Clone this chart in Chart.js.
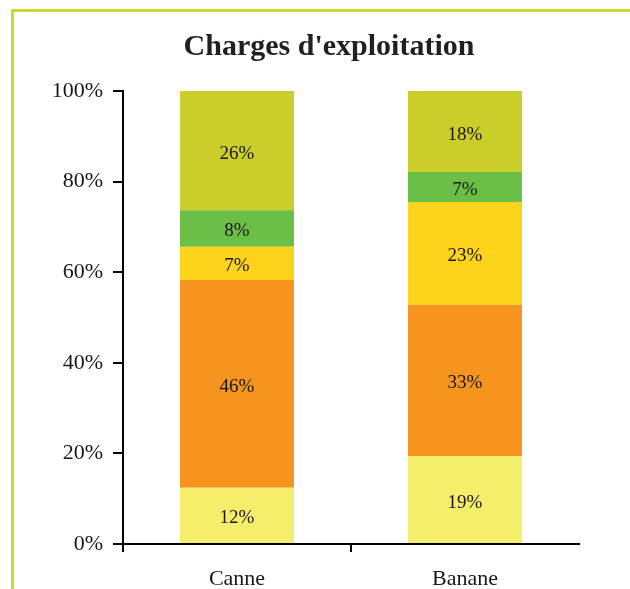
<!DOCTYPE html>
<html>
<head>
<meta charset="utf-8">
<script src="https://cdn.jsdelivr.net/npm/chart.js@4"></script>
<style>
  html, body { margin: 0; padding: 0; background: #fff; overflow: hidden; }
  #wrap { position: relative; width: 630px; height: 589px; }
  #frame { position: absolute; left: 11px; top: 9px; width: 700px; height: 700px;
           border-top: 3px solid #cdd82e; border-left: 3px solid #cdd82e; }
  canvas { position: absolute; left: 0; top: 0; }
</style>
</head>
<body>
<div id="wrap">
  <div id="frame"></div>
  <canvas id="chart" width="630" height="589"></canvas>
</div>
<script>
var chartTitle = "Charges d'exploitation";
var categories = ["Canne", "Banane"];
var seriesNames = ["Poste 1", "Poste 2", "Poste 3", "Poste 4", "Poste 5"];
var seriesColors = ["#f5ee6b", "#f6941f", "#fdd31c", "#6bbe46", "#cacd2a"];
// one array per series, values in % for [Canne, Banane]
var serie1 = [12.4, 19.4];
var serie2 = [45.9, 33.4];
var serie3 = [7.3, 22.7];
var serie4 = [8.1, 6.6];
var serie5 = [26.3, 17.9];
var yTicks = [0, 20, 40, 60, 80, 100];

var allSeries = [serie1, serie2, serie3, serie4, serie5];
var datasets = allSeries.map(function (s, i) {
  return {
    label: seriesNames[i],
    data: s,
    backgroundColor: seriesColors[i],
    borderWidth: 0,
    barPercentage: 0.5,
    categoryPercentage: 1.0
  };
});

// rounded value in the middle of each segment + the title
var segmentLabels = {
  id: "segmentLabels",
  afterDatasetsDraw: function (chart) {
    var ctx = chart.ctx;
    ctx.save();
    ctx.font = "19px 'Liberation Serif'";
    ctx.fillStyle = "#1a1718";
    ctx.textAlign = "center";
    ctx.textBaseline = "middle";
    chart.data.datasets.forEach(function (ds, i) {
      var meta = chart.getDatasetMeta(i);
      meta.data.forEach(function (bar, j) {
        var yMid = (bar.y + bar.base) / 2;
        ctx.fillText(Math.round(ds.data[j]) + "%", bar.x, yMid + 3);
      });
    });
    ctx.font = "bold 30px 'Liberation Serif'";
    ctx.fillStyle = "#231f20";
    ctx.fillText(chartTitle, 329, 47);
    ctx.restore();
  }
};

new Chart("chart", {
  type: "bar",
  data: { labels: categories, datasets: datasets },
  plugins: [segmentLabels],
  options: {
    responsive: false,
    animation: false,
    layout: { padding: { left: 12, right: 51, top: 91, bottom: 0 } },
    plugins: {
      legend: { display: false },
      tooltip: { enabled: false },
      title: { display: false }
    },
    scales: {
      x: {
        stacked: true,
        afterFit: function (scale) { scale.height = 45; },
        grid: {
          drawOnChartArea: false,
          drawTicks: true,
          tickLength: 8,
          lineWidth: 2,
          color: function (c) { return c.type === "tick" ? "#000" : "rgba(0,0,0,0)"; }
        },
        border: { color: "#000", width: 2 },
        ticks: {
          color: "#1a1718",
          padding: 14,
          font: { family: "'Liberation Serif'", size: 22 }
        }
      },
      y: {
        stacked: true,
        min: 0,
        max: 100,
        afterFit: function (scale) { scale.width = 111; },
        afterBuildTicks: function (scale) {
          scale.ticks = yTicks.map(function (v) { return { value: v }; });
        },
        grid: {
          drawOnChartArea: false,
          drawTicks: true,
          tickLength: 10,
          lineWidth: 2,
          color: "#000"
        },
        border: { color: "#000", width: 2 },
        ticks: {
          color: "#1a1718",
          padding: 10,
          font: { family: "'Liberation Serif'", size: 22 },
          callback: function (v) { return v + "%"; }
        }
      }
    }
  }
});
</script>
</body>
</html>
